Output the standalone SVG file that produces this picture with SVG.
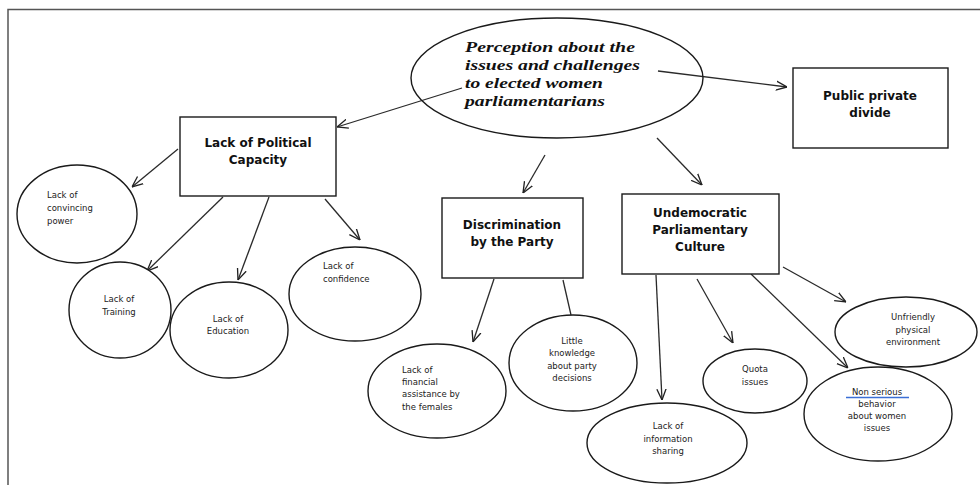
<svg xmlns="http://www.w3.org/2000/svg" width="980" height="485" viewBox="0 0 980 485">
<defs>
<marker id="ah" viewBox="0 0 10 10" refX="10" refY="5" markerWidth="11" markerHeight="11" markerUnits="userSpaceOnUse" orient="auto">
<path d="M0,0.8 L10,5 L0,9.2" fill="none" stroke="#222" stroke-width="1.2"/>
</marker>
</defs>
<style>
.shape{fill:#fff;stroke:#1a1a1a;stroke-width:1.4}
.conn{stroke:#2a2a2a;stroke-width:1.3;fill:none}
.title{font-family:"Liberation Serif",serif;font-weight:bold;font-style:italic;font-size:15.5px;fill:#111}
.box{font-family:"DejaVu Sans",Verdana,sans-serif;font-weight:bold;font-size:12px;fill:#111;text-anchor:middle}
.small{font-family:"DejaVu Sans",Verdana,sans-serif;font-size:8.5px;fill:#222}
.c{text-anchor:middle}
</style>
<rect width="980" height="485" fill="#fff"/>
<path d="M8,485 V9.5 H980" fill="none" stroke="#555" stroke-width="1.5"/>

<g id="connectors">
<line class="conn" x1="462" y1="88" x2="337" y2="127" marker-end="url(#ah)"/>
<line class="conn" x1="658" y1="71" x2="787" y2="87" marker-end="url(#ah)"/>
<line class="conn" x1="545" y1="155" x2="523" y2="193" marker-end="url(#ah)"/>
<line class="conn" x1="657" y1="138" x2="702" y2="185" marker-end="url(#ah)"/>
<line class="conn" x1="178" y1="149" x2="132" y2="187" marker-end="url(#ah)"/>
<line class="conn" x1="223" y1="197" x2="147" y2="271" marker-end="url(#ah)"/>
<line class="conn" x1="269" y1="197" x2="238" y2="280" marker-end="url(#ah)"/>
<line class="conn" x1="325" y1="199" x2="360" y2="240" marker-end="url(#ah)"/>
<line class="conn" x1="494" y1="279" x2="473" y2="342" marker-end="url(#ah)"/>
<line class="conn" x1="563" y1="280" x2="571" y2="315"/>
<line class="conn" x1="656" y1="275" x2="662" y2="400" marker-end="url(#ah)"/>
<line class="conn" x1="697" y1="279" x2="733" y2="343" marker-end="url(#ah)"/>
<line class="conn" x1="751" y1="274" x2="848" y2="368" marker-end="url(#ah)"/>
<line class="conn" x1="783" y1="267" x2="846" y2="302" marker-end="url(#ah)"/>
</g>

<g id="main">
<ellipse cx="557" cy="78" rx="146" ry="60" fill="none" stroke="#1a1a1a" stroke-width="1.4"/>
<text class="title" x="465" y="52" textLength="170" lengthAdjust="spacingAndGlyphs">Perception about the</text>
<text class="title" x="465" y="70" textLength="175" lengthAdjust="spacingAndGlyphs">issues and challenges</text>
<text class="title" x="465" y="88" textLength="138" lengthAdjust="spacingAndGlyphs">to elected women</text>
<text class="title" x="465" y="106" textLength="140" lengthAdjust="spacingAndGlyphs">parliamentarians</text>
</g>

<g id="public">
<rect class="shape" x="793" y="68" width="155" height="80"/>
<text class="box" x="870" y="100">Public private</text>
<text class="box" x="870" y="117">divide</text>
</g>

<g id="political">
<rect class="shape" x="180" y="117" width="156" height="79"/>
<text class="box" x="258" y="147">Lack of Political</text>
<text class="box" x="258" y="164">Capacity</text>
</g>

<g id="discrimination">
<rect class="shape" x="442" y="198" width="141" height="80"/>
<text class="box" x="512" y="229">Discrimination</text>
<text class="box" x="512" y="246">by the Party</text>
</g>

<g id="undemocratic">
<rect class="shape" x="622" y="194" width="157" height="80"/>
<text class="box" x="700" y="217">Undemocratic</text>
<text class="box" x="700" y="234">Parliamentary</text>
<text class="box" x="700" y="251">Culture</text>
</g>

<g id="convincing">
<ellipse class="shape" cx="77" cy="214" rx="60" ry="49"/>
<text class="small" x="47" y="198">Lack of</text>
<text class="small" x="47" y="211">convincing</text>
<text class="small" x="47" y="224">power</text>
</g>

<g id="training">
<ellipse class="shape" cx="120" cy="310" rx="51" ry="48"/>
<text class="small c" x="119" y="302">Lack of</text>
<text class="small c" x="119" y="315">Training</text>
</g>

<g id="education">
<ellipse class="shape" cx="229" cy="330" rx="59" ry="48"/>
<text class="small c" x="228" y="322">Lack of</text>
<text class="small c" x="228" y="334">Education</text>
</g>

<g id="confidence">
<ellipse class="shape" cx="355" cy="294" rx="66" ry="47"/>
<text class="small" x="323" y="269">Lack of</text>
<text class="small" x="323" y="282">confidence</text>
</g>

<g id="financial">
<ellipse class="shape" cx="437" cy="391" rx="69" ry="47"/>
<text class="small" x="402" y="373">Lack of</text>
<text class="small" x="402" y="385">financial</text>
<text class="small" x="402" y="397">assistance by</text>
<text class="small" x="402" y="410">the females</text>
</g>

<g id="knowledge">
<ellipse class="shape" cx="573" cy="363" rx="64" ry="48"/>
<text class="small c" x="572" y="344">Little</text>
<text class="small c" x="572" y="356">knowledge</text>
<text class="small c" x="572" y="369">about party</text>
<text class="small c" x="572" y="381">decisions</text>
</g>

<g id="information">
<ellipse class="shape" cx="667" cy="443" rx="80" ry="40"/>
<text class="small c" x="668" y="429">Lack of</text>
<text class="small c" x="668" y="442">information</text>
<text class="small c" x="668" y="454">sharing</text>
</g>

<g id="quota">
<ellipse class="shape" cx="755" cy="381" rx="52" ry="32"/>
<text class="small c" x="755" y="372">Quota</text>
<text class="small c" x="755" y="385">issues</text>
</g>

<g id="unfriendly">
<ellipse class="shape" cx="906" cy="332" rx="71" ry="35"/>
<text class="small c" x="913" y="320">Unfriendly</text>
<text class="small c" x="913" y="333">physical</text>
<text class="small c" x="913" y="345">environment</text>
</g>

<g id="nonserious">
<ellipse class="shape" cx="878" cy="414" rx="74" ry="47"/>
<text class="small c" x="877" y="395">Non serious</text>
<line x1="846" y1="397.5" x2="909" y2="397.5" stroke="#3b6fd6" stroke-width="1.3"/>
<text class="small c" x="877" y="407">behavior</text>
<text class="small c" x="877" y="419">about women</text>
<text class="small c" x="877" y="431">issues</text>
</g>
</svg>
